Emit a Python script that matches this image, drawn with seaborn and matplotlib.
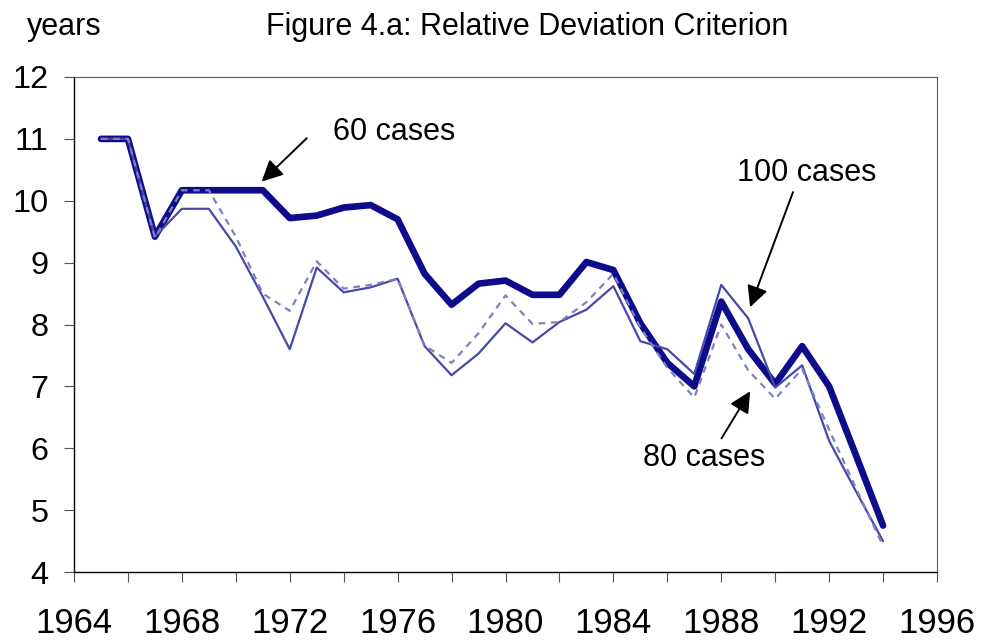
import matplotlib
matplotlib.use("Agg")
import matplotlib.pyplot as plt
import seaborn as sns
import pandas as pd

years = list(range(1965, 1995))
cases60 = [11.0, 11.0, 9.42, 10.17, 10.17, 10.17, 10.17, 9.72, 9.76, 9.89, 9.93, 9.70,
           8.82, 8.32, 8.66, 8.71, 8.48, 8.48, 9.01, 8.88, 8.02, 7.38, 7.0, 8.37,
           7.6, 7.04, 7.65, 7.0, 5.88, 4.75]
cases100 = [11.0, 11.0, 9.42, 9.87, 9.87, 9.26, 8.45, 7.6, 8.92, 8.52, 8.6, 8.74,
            7.65, 7.18, 7.53, 8.02, 7.71, 8.04, 8.24, 8.62, 7.73, 7.6, 7.2, 8.64,
            8.1, 6.98, 7.34, 6.12, 5.3, 4.5]
cases80 = [11.0, 11.0, 9.4, 10.17, 10.17, 9.42, 8.5, 8.22, 9.02, 8.58, 8.64, 8.74,
           7.66, 7.38, 7.86, 8.47, 8.01, 8.04, 8.36, 8.82, 7.95, 7.3, 6.82, 8.0,
           7.26, 6.8, 7.28, 6.3, 5.35, 4.42]

df = pd.DataFrame({"year": years, "c60": cases60, "c100": cases100, "c80": cases80})

sns.set_style("white")
plt.rcParams['font.family'] = ['Liberation Sans', 'DejaVu Sans']
plt.rcParams['text.color'] = 'black'
plt.rcParams['xtick.labelcolor'] = 'black'
plt.rcParams['ytick.labelcolor'] = 'black'

fig = plt.figure(figsize=(9.82, 6.44), dpi=100)
ax = fig.add_axes([74/982, 1-572/644, (937-74)/982, (572-77)/644])

sns.lineplot(data=df, x="year", y="c60", ax=ax, color="#0D0D8C", linewidth=4.8,
             solid_joinstyle="round", solid_capstyle="round", zorder=2)
sns.lineplot(data=df, x="year", y="c100", ax=ax, color="#4848A8", linewidth=1.6, zorder=3)
sns.lineplot(data=df, x="year", y="c80", ax=ax, color="#8080BC", linewidth=1.6,
             linestyle=(0, (3, 2.5)), zorder=4)

ax.set_xlim(1964, 1996)
ax.set_ylim(4, 12)
ax.set_xticks(range(1964, 1997, 4))
ax.set_xticks(range(1964, 1997, 2), minor=True)
ax.set_yticks(range(4, 13))
ax.set_xlabel("")
ax.set_ylabel("")

for s in ["left", "bottom"]:
    ax.spines[s].set_color("black")
    ax.spines[s].set_linewidth(1.0)
for s in ["top", "right"]:
    ax.spines[s].set_color("#555555")
    ax.spines[s].set_linewidth(0.8)

ax.tick_params(axis="y", which="major", direction="out", length=7.5, width=0.8,
               color="#555555", labelsize=23.3, pad=11, left=True, labelcolor="black")
ax.tick_params(axis="x", which="both", direction="out", length=7.5, width=0.8,
               color="#555555", bottom=True)
ax.tick_params(axis="x", which="major", labelsize=25, pad=18, labelcolor="black")

fig.text(27/982, 1-35/644, "years", fontsize=22, ha="left", va="baseline", color="black")
fig.text(527/982, 1-35/644, "Figure 4.a: Relative Deviation Criterion", fontsize=22,
         ha="center", va="baseline", color="black")

arrow = dict(arrowstyle="-|>", color="black", lw=1.4, mutation_scale=32,
             shrinkA=0, shrinkB=0)
ax.annotate("", xy=(1970.96, 10.31), xytext=(1972.63, 11.01), arrowprops=arrow)
ax.text(1973.6, 11.11, "60 cases", fontsize=22, ha="left", va="center", color="black")

ax.annotate("", xy=(1989.07, 8.28), xytext=(1990.66, 10.14), arrowprops=arrow)
ax.text(1991.16, 10.45, "100 cases", fontsize=22, ha="center", va="center", color="black")

ax.annotate("", xy=(1989.07, 6.92), xytext=(1988.01, 6.16), arrowprops=arrow)
ax.text(1987.36, 5.84, "80 cases", fontsize=22, ha="center", va="center", color="black")

fig.savefig("out.png", dpi=100)
